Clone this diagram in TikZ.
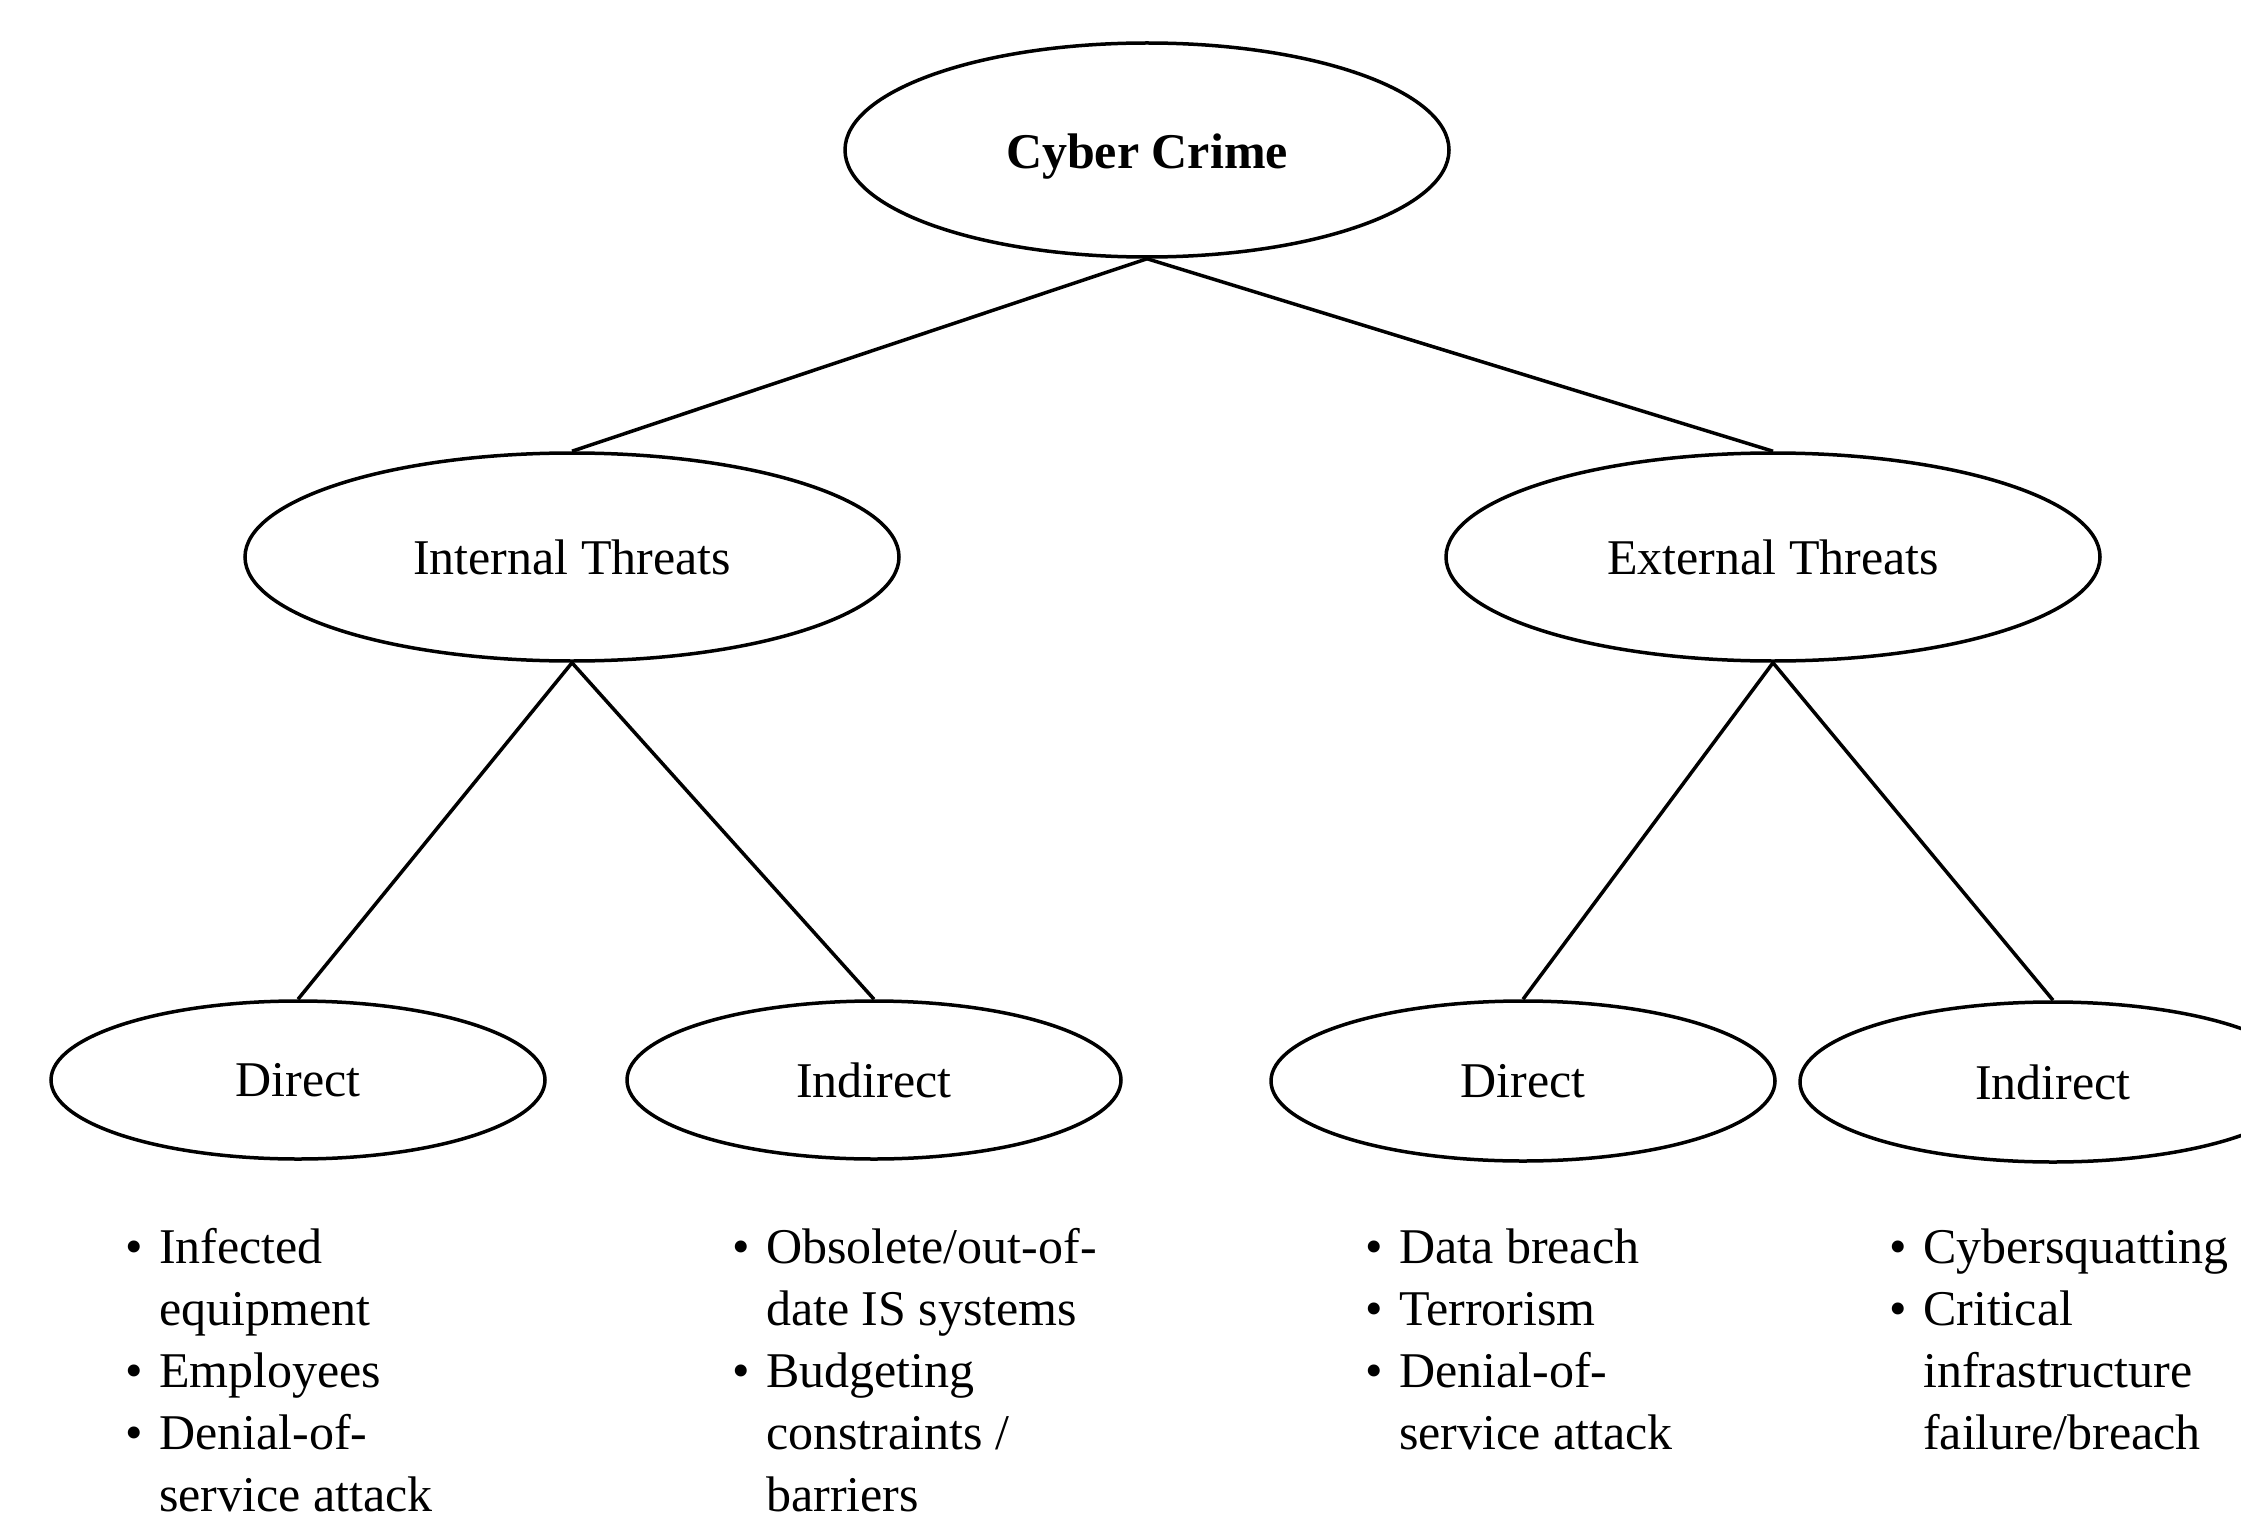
\documentclass[tikz,border=0pt]{standalone}
\usepackage{fontspec}
\setmainfont{Liberation Serif}
\usetikzlibrary{shapes.geometric}
\newcommand\bul{\makebox[34pt][l]{\textbullet}}
\newcommand\ind{\hspace*{34pt}}
\begin{document}
\begin{tikzpicture}[x=1pt,y=-1pt,
  oval/.style={draw, line width=3.5pt, ellipse, inner sep=0pt, font=\fontsize{50}{62}\selectfont},
  conn/.style={line width=3.5pt},
  lst/.style={anchor=base west, inner sep=0pt, font=\fontsize{50}{62}\selectfont}]
\useasboundingbox (0,0) rectangle (2241,1514);
\fill[white] (0,0) rectangle (2241,1514);
\node[oval, minimum width=604pt, minimum height=214pt, text height=37pt, text depth=0pt] (root) at (1147,150) {\bfseries Cyber Crime};
\node[oval, minimum width=654pt, minimum height=208pt] (int) at (572,557) {Internal Threats};
\node[oval, minimum width=654pt, minimum height=208pt] (ext) at (1773,557) {External Threats};
\node[oval, minimum width=494pt, minimum height=158pt] (idir) at (298,1080) {Direct};
\node[oval, minimum width=494pt, minimum height=158pt] (iind) at (874,1080) {Indirect};
\node[oval, minimum width=504pt, minimum height=160pt] (edir) at (1523,1081) {Direct};
\node[oval, minimum width=506pt, minimum height=160pt] (eind) at (2053,1082) {Indirect};
\draw[conn] (root.south) -- (int.north);
\draw[conn] (root.south) -- (ext.north);
\draw[conn] (int.south) -- (idir.north);
\draw[conn] (int.south) -- (iind.north);
\draw[conn] (ext.south) -- (edir.north);
\draw[conn] (ext.south) -- (eind.north);
\node[lst] (l1) at (125,1263) {\begin{tabular}[t]{@{}l@{}}\bul Infected\\ \ind equipment\\ \bul Employees\\ \bul Denial-of-\\ \ind service attack\end{tabular}};
\node[lst] (l2) at (732,1263) {\begin{tabular}[t]{@{}l@{}}\bul Obsolete/out-of-\\ \ind date IS systems\\ \bul Budgeting\\ \ind constraints /\\ \ind barriers\end{tabular}};
\node[lst] (l3) at (1365,1263) {\begin{tabular}[t]{@{}l@{}}\bul Data breach\\ \bul Terrorism\\ \bul Denial-of-\\ \ind service attack\end{tabular}};
\node[lst] (l4) at (1889,1263) {\begin{tabular}[t]{@{}l@{}}\bul Cybersquatting\\ \bul Critical\\ \ind infrastructure\\ \ind failure/breach\end{tabular}};
\end{tikzpicture}
\end{document}
